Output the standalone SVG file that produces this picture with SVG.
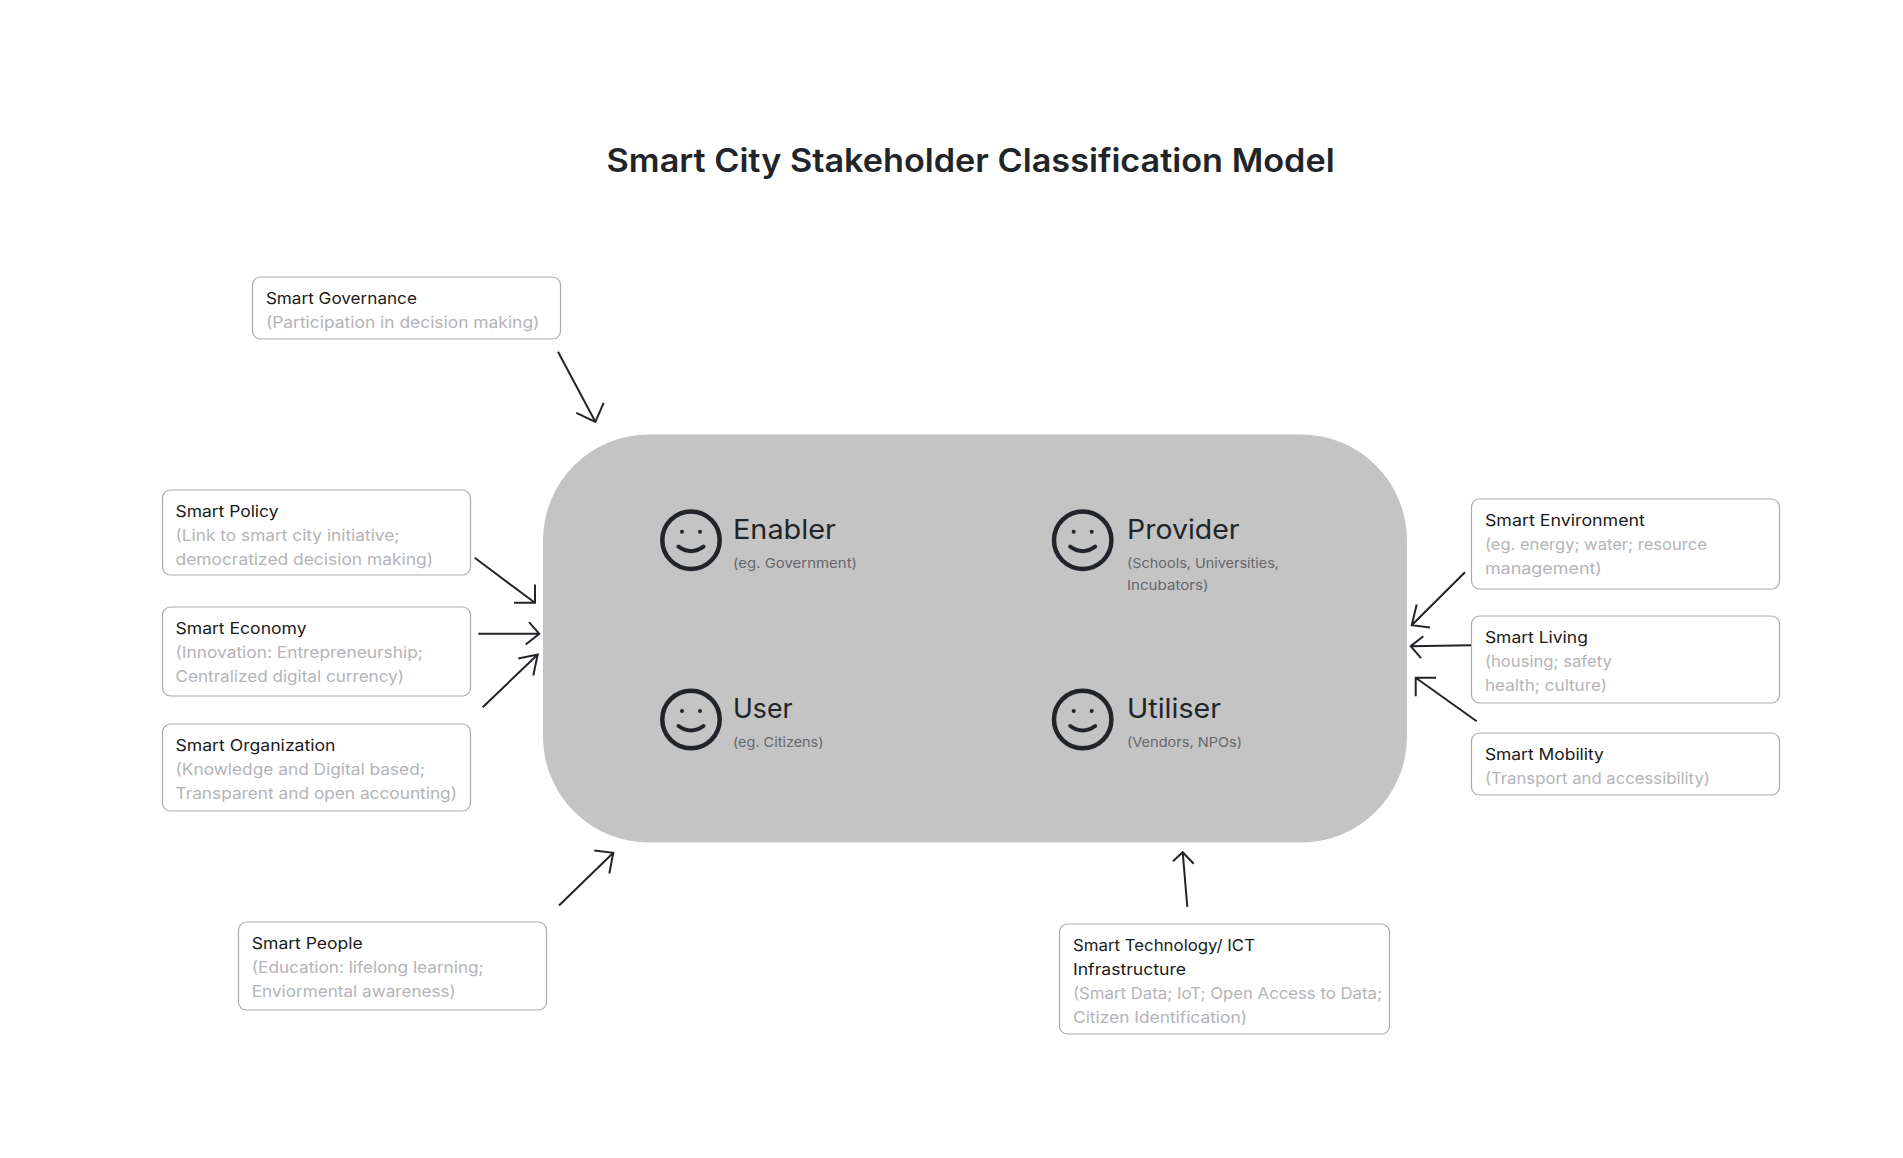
<svg xmlns="http://www.w3.org/2000/svg" width="1903" height="1158" viewBox="0 0 1903 1158">
<style>
text{font-family:Inter,"Open Sans","DejaVu Sans",sans-serif}
.box{fill:#fff;stroke:#ababaf;stroke-width:1.2}
.h{font-size:16px;fill:#1a1a1a}
.s{font-size:16px;fill:#b4b4b8}
.arrow{fill:none;stroke:#212529;stroke-width:2}
.role{font-size:27px;fill:#212529}
.sub{font-size:13.5px;fill:#66666b}
.face{fill:none;stroke:#212529;stroke-width:4.5}
.eye{fill:#212529}
.smile{fill:none;stroke:#212529;stroke-width:4;stroke-linecap:round}
</style>
<defs>
<g id="smiley">
<circle class="face" cx="0" cy="0" r="28.7"/>
<circle class="eye" cx="-9" cy="-8.4" r="2"/>
<circle class="eye" cx="9" cy="-8.4" r="2"/>
<path class="smile" d="M-12.5 6.5Q0 15.5 12.5 6.5"/>
</g>
</defs>
<rect width="1903" height="1158" fill="#fff"/>
<text id="title" x="606.6" y="172" font-size="32" font-weight="600" fill="#212529" textLength="728" lengthAdjust="spacingAndGlyphs">Smart City Stakeholder Classification Model</text>

<g id="core">
<rect x="543" y="434.5" width="864" height="408" rx="106" ry="106" fill="#c4c4c4"/>
</g>
<g id="enabler"><use href="#smiley" x="691" y="540.2"/><text class="role" x="733" y="539.3" textLength="103" lengthAdjust="spacingAndGlyphs">Enabler</text><text class="sub" x="733" y="567.5" textLength="124" lengthAdjust="spacingAndGlyphs">(eg. Government)</text></g>
<g id="provider"><use href="#smiley" x="1082.7" y="540.2"/><text class="role" x="1127" y="539.3" textLength="112.5" lengthAdjust="spacingAndGlyphs">Provider</text><text class="sub" x="1127" y="567.5" textLength="152" lengthAdjust="spacingAndGlyphs">(Schools, Universities,</text><text class="sub" x="1127" y="589.5" textLength="81.5" lengthAdjust="spacingAndGlyphs">Incubators)</text></g>
<g id="user"><use href="#smiley" x="691" y="719.5"/><text class="role" x="733" y="718.3" textLength="59.5" lengthAdjust="spacingAndGlyphs">User</text><text class="sub" x="733" y="746.5" textLength="90.5" lengthAdjust="spacingAndGlyphs">(eg. Citizens)</text></g>
<g id="utiliser"><use href="#smiley" x="1082.7" y="719.5"/><text class="role" x="1127" y="718.3" textLength="94" lengthAdjust="spacingAndGlyphs">Utiliser</text><text class="sub" x="1127" y="746.5" textLength="115" lengthAdjust="spacingAndGlyphs">(Vendors, NPOs)</text></g>

<g id="smart-governance"><rect class="box" x="252.5" y="277" width="308" height="62" rx="8"/><text class="h" x="265.9" y="304" textLength="151" lengthAdjust="spacingAndGlyphs">Smart Governance</text><text class="s" x="265.9" y="328" textLength="273.5" lengthAdjust="spacingAndGlyphs">(Participation in decision making)</text></g>
<g id="smart-policy"><rect class="box" x="162.5" y="490" width="308" height="85" rx="8"/><text class="h" x="175.5" y="517" textLength="103" lengthAdjust="spacingAndGlyphs">Smart Policy</text><text class="s" x="175.5" y="541" textLength="224" lengthAdjust="spacingAndGlyphs">(Link to smart city initiative;</text><text class="s" x="175.5" y="565" textLength="257.5" lengthAdjust="spacingAndGlyphs">democratized decision making)</text></g>
<g id="smart-economy"><rect class="box" x="162.5" y="607" width="308" height="89" rx="8"/><text class="h" x="175.5" y="634" textLength="131" lengthAdjust="spacingAndGlyphs">Smart Economy</text><text class="s" x="175.5" y="658" textLength="247.5" lengthAdjust="spacingAndGlyphs">(Innovation: Entrepreneurship;</text><text class="s" x="175.5" y="682" textLength="228.5" lengthAdjust="spacingAndGlyphs">Centralized digital currency)</text></g>
<g id="smart-organization"><rect class="box" x="162.5" y="724" width="308" height="87" rx="8"/><text class="h" x="175.5" y="751" textLength="160" lengthAdjust="spacingAndGlyphs">Smart Organization</text><text class="s" x="175.5" y="775" textLength="249.5" lengthAdjust="spacingAndGlyphs">(Knowledge and Digital based;</text><text class="s" x="175.5" y="799" textLength="281.5" lengthAdjust="spacingAndGlyphs">Transparent and open accounting)</text></g>
<g id="smart-people"><rect class="box" x="238.5" y="922" width="308" height="88" rx="8"/><text class="h" x="251.8" y="949" textLength="111" lengthAdjust="spacingAndGlyphs">Smart People</text><text class="s" x="251.8" y="973" textLength="232" lengthAdjust="spacingAndGlyphs">(Education: lifelong learning;</text><text class="s" x="251.8" y="997" textLength="204" lengthAdjust="spacingAndGlyphs">Enviormental awareness)</text></g>
<g id="smart-technology"><rect class="box" x="1059.5" y="924" width="330" height="110" rx="8"/><text class="h" x="1073" y="951" textLength="182" lengthAdjust="spacingAndGlyphs">Smart Technology/ ICT</text><text class="h" x="1073" y="975" textLength="113" lengthAdjust="spacingAndGlyphs">Infrastructure</text><text class="s" x="1073" y="999" textLength="309" lengthAdjust="spacingAndGlyphs">(Smart Data; IoT; Open Access to Data;</text><text class="s" x="1073" y="1023" textLength="174" lengthAdjust="spacingAndGlyphs">Citizen Identification)</text></g>
<g id="smart-environment"><rect class="box" x="1471.5" y="499" width="308" height="90" rx="8"/><text class="h" x="1484.9" y="526" textLength="160" lengthAdjust="spacingAndGlyphs">Smart Environment</text><text class="s" x="1484.9" y="550" textLength="222" lengthAdjust="spacingAndGlyphs">(eg. energy; water; resource</text><text class="s" x="1484.9" y="574" textLength="117" lengthAdjust="spacingAndGlyphs">management)</text></g>
<g id="smart-living"><rect class="box" x="1471.5" y="616" width="308" height="87" rx="8"/><text class="h" x="1484.9" y="643" textLength="103" lengthAdjust="spacingAndGlyphs">Smart Living</text><text class="s" x="1484.9" y="667" textLength="127" lengthAdjust="spacingAndGlyphs">(housing; safety</text><text class="s" x="1484.9" y="691" textLength="122" lengthAdjust="spacingAndGlyphs">health; culture)</text></g>
<g id="smart-mobility"><rect class="box" x="1471.5" y="733" width="308" height="62" rx="8"/><text class="h" x="1484.9" y="760" textLength="119" lengthAdjust="spacingAndGlyphs">Smart Mobility</text><text class="s" x="1484.9" y="784" textLength="225" lengthAdjust="spacingAndGlyphs">(Transport and accessibility)</text></g>

<g id="connectors" transform="translate(0 -0.5)">
<path class="arrow" d="M558 352.3L595.3 422.3M576.3 413.3L595.3 422.3L603.7 403.3"/>
<path class="arrow" d="M474.7 558.3L535 603.3M514 603.3H535V585"/>
<path class="arrow" d="M478.3 634.3H539.3M529 622.7L539.3 634.3L525.7 645"/>
<path class="arrow" d="M482.7 707.7L537.7 655M518.3 659L537.7 655L533.3 676"/>
<path class="arrow" d="M1465 572.7L1411.7 625.7M1416.7 605L1411.7 625.7L1430 628"/>
<path class="arrow" d="M1471 645.7L1410.7 646.7M1423.3 636.7L1410.7 646.7L1421 658.7"/>
<path class="arrow" d="M1476.7 721.7L1415.7 678.3M1436 678.3H1415.7V696.7"/>
<path class="arrow" d="M559 906L613.3 853.3M594.3 851L613.3 853.3L609.3 874"/>
<path class="arrow" d="M1187.3 907.3L1182.7 852.7M1173 861.7L1182.7 852.7L1193.7 864.3"/>
</g>
</svg>
